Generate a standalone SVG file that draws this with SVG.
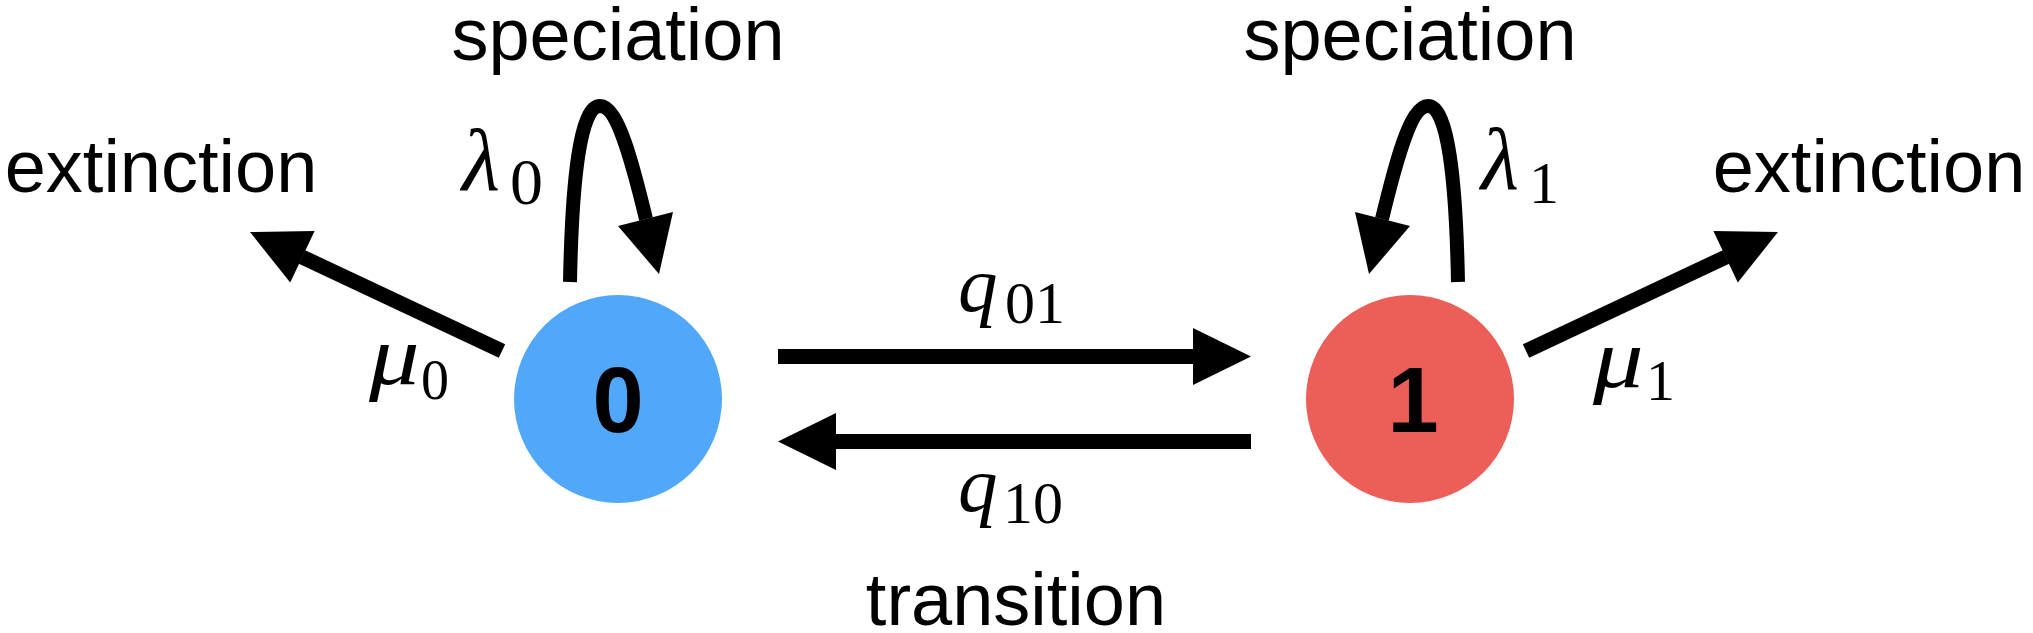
<svg xmlns="http://www.w3.org/2000/svg" width="2033" height="633" viewBox="0 0 2033 633">
<style>
.lbl{font-family:"Liberation Sans",Arial,sans-serif;font-size:74px;fill:#000;text-anchor:middle}
.num{font-family:"Liberation Sans",Arial,sans-serif;font-weight:bold;font-size:92px;fill:#000;text-anchor:middle}
.math{font-family:"Liberation Serif","Times New Roman",serif;fill:#000}
.it{font-style:italic}
.shaft{stroke:#000;stroke-width:15;fill:none;stroke-linecap:butt}
.loop{stroke:#000;stroke-width:14;fill:none;stroke-linecap:butt}
.head{fill:#000}
</style>
<rect width="2033" height="633" fill="#fff"/>
<g id="connectors">
  <g id="loop0">
    <path class="loop" d="M570,282 C572,180 580,106 600,106 C618,106 633,165 646,219"/>
    <polygon class="head" points="659,274 618,226 673,212"/>
  </g>
  <g id="loop1">
    <path class="loop" d="M1458,282 C1456,180 1448,106 1428,106 C1410,106 1395,165 1382,219"/>
    <polygon class="head" points="1369,274 1410,226 1355,212"/>
  </g>
  <g id="ext0">
    <line class="shaft" x1="502" y1="351" x2="302" y2="257"/>
    <polygon class="head" points="250,232 314.6,231 290.2,282.6"/>
  </g>
  <g id="ext1">
    <line class="shaft" x1="1526" y1="351" x2="1726" y2="257"/>
    <polygon class="head" points="1778,232 1713.4,231 1737.8,282.6"/>
  </g>
  <g id="q01">
    <line class="shaft" x1="778" y1="356.5" x2="1194" y2="356.5"/>
    <polygon class="head" points="1251,356.5 1193,328 1193,385"/>
  </g>
  <g id="q10">
    <line class="shaft" x1="835" y1="441.5" x2="1251" y2="441.5"/>
    <polygon class="head" points="778,441.5 836,413 836,470"/>
  </g>
</g>
<g id="node0">
  <circle cx="618" cy="399" r="104" fill="#51a7f9"/>
  <text class="num" x="618" y="432">0</text>
</g>
<g id="node1">
  <circle cx="1410" cy="399" r="104" fill="#ec5e58"/>
  <text class="num" x="1413" y="432">1</text>
</g>
<g id="labels">
  <text class="lbl" x="618" y="60">speciation</text>
  <text class="lbl" x="1410" y="60">speciation</text>
  <text class="lbl" x="161" y="192">extinction</text>
  <text class="lbl" x="1869" y="192">extinction</text>
  <text class="lbl" x="1016" y="625">transition</text>
  <g id="lambda0"><text class="math it" x="462" y="190" font-size="88">λ</text><text class="math" x="510" y="204" font-size="66">0</text></g>
  <g id="lambda1"><text class="math it" x="1481" y="189" font-size="88">λ</text><text class="math" x="1529" y="203" font-size="60">1</text></g>
  <g id="mu0"><text class="math it" transform="translate(369,384) scale(1.2,1)" font-size="84">μ</text><text class="math" x="421" y="399" font-size="56">0</text></g>
  <g id="mu1"><text class="math it" transform="translate(1593,387) scale(1.2,1)" font-size="84">μ</text><text class="math" x="1646" y="400" font-size="58">1</text></g>
  <g id="q01lbl"><text class="math it" x="958" y="311" font-size="79">q</text><text class="math" x="1005" y="323" font-size="60">01</text></g>
  <g id="q10lbl"><text class="math it" x="958" y="511" font-size="79">q</text><text class="math" x="1003" y="523" font-size="60">10</text></g>
</g>
</svg>
